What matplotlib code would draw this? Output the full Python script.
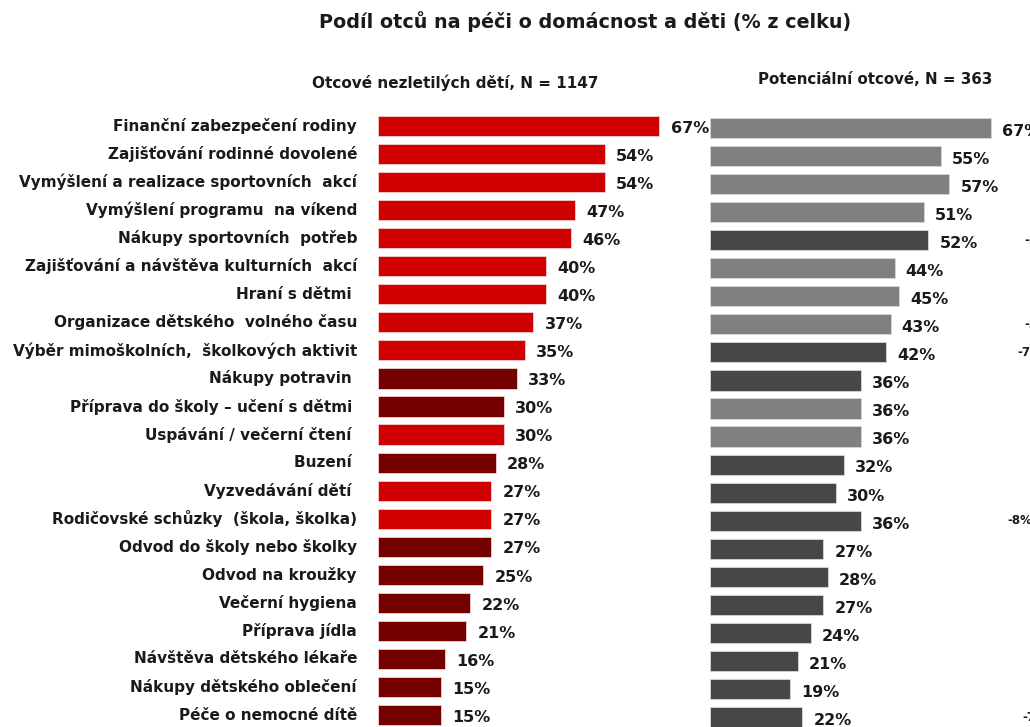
'''podil otcu na peci o domacnost a deti - two panel bar chart'''

import matplotlib
matplotlib.use('Agg')
import matplotlib.pyplot as plt

activities = ['Finanční zabezpečení rodiny', 'Zajišťování rodinné dovolené',
	'Vymýšlení a realizace sportovních  akcí', 'Vymýšlení programu  na víkend',
	'Nákupy sportovních  potřeb', 'Zajišťování a návštěva kulturních  akcí',
	'Hraní s dětmi ', 'Organizace dětského  volného času',
	'Výběr mimoškolních,  školkových aktivit', 'Nákupy potravin ',
	'Příprava do školy – učení s dětmi ', 'Uspávání / večerní čtení ',
	'Buzení ', 'Vyzvedávání dětí ', 'Rodičovské schůzky  (škola, školka)',
	'Odvod do školy nebo školky', 'Odvod na kroužky', 'Večerní hygiena',
	'Příprava jídla', 'Návštěva dětského lékaře', 'Nákupy dětského oblečení',
	'Péče o nemocné dítě']
fathers = [67, 54, 54, 47, 46, 40, 40, 37, 35, 33, 30, 30, 28, 27, 27, 27, 25, 22, 21, 16, 15, 15]
# 1 = dark bar, 0 = light bar
fathers_dark = [0, 0, 0, 0, 0, 0, 0, 0, 0, 1, 1, 0, 1, 0, 0, 1, 1, 1, 1, 1, 1, 1]
potential = [67, 55, 57, 51, 52, 44, 45, 43, 42, 36, 36, 36, 32, 30, 36, 27, 28, 27, 24, 21, 19, 22]
potential_dark = [0, 0, 0, 0, 1, 0, 0, 0, 1, 1, 0, 0, 1, 1, 1, 1, 1, 1, 1, 1, 1, 1]
# third column (differences) is cut off at the right edge of the original
diff_rows = [4, 7, 8, 14, 21]
diff_labels = ['-5%', '-3%', '-7%', '-8%', '-7%']

title = 'Podíl otců na péči o domácnost a děti (% z celku)'
left_title = 'Otcové nezletilých dětí, N = 1147'
right_title = 'Potenciální otcové, N = 363'

W, H = 1030, 727
fig = plt.figure(figsize=(W/100, H/100), dpi=100)
fig.patch.set_facecolor('white')

step = 28.05
n = len(activities)
pxu = 4.2  # pixels per percent

def make_ax(x0, width, ytop):
	top = ytop - step/2
	bottom = top + step*n
	ax = fig.add_axes([x0/W, 1 - bottom/H, width/W, (bottom - top)/H])
	ax.set_xlim(0, width/pxu)
	ax.set_ylim(n - 0.5, -0.5)
	ax.axis('off')
	return ax

axl = make_ax(378, 300, 126)
axr = make_ax(710, 320, 128)

ys = range(n)
cl = ['#740000' if d else '#d00000' for d in fathers_dark]
axl.barh(ys, fathers, height=0.72, color=cl, edgecolor='#f0d0d0', linewidth=0.6)
for y, v in zip(ys, fathers):
	axl.text(v + 2.7, y + 0.08, '%d%%' % v, va='center', ha='left', fontsize=11.5,
		fontweight='bold', color='#1a1a1a', clip_on=False)
	axl.text(-5, y, activities[y], va='center', ha='right', fontsize=11,
		fontweight='bold', color='#1a1a1a', clip_on=False)

cr = ['#474747' if d else '#808080' for d in potential_dark]
axr.barh(ys, potential, height=0.72, color=cr, edgecolor='#d8d8d8', linewidth=0.6)
for y, v in zip(ys, potential):
	axr.text(v + 2.6, y + 0.12, '%d%%' % v, va='center', ha='left', fontsize=11.5,
		fontweight='bold', color='#1a1a1a', clip_on=False)

for r, lab, x in zip(diff_rows, diff_labels, [1024, 1024, 1017, 1007, 1022]):
	axr.text((x - 710)/pxu, r, lab, va='center', ha='left', fontsize=8.5,
		fontweight='bold', color='#1a1a1a', clip_on=False)

fig.text(585/W, 1 - 22/H, title, ha='center', va='center', fontsize=13.8, fontweight='bold', color='#1a1a1a')
fig.text(455/W, 1 - 83/H, left_title, ha='center', va='center', fontsize=11, fontweight='bold', color='#1a1a1a')
fig.text(875/W, 1 - 80/H, right_title, ha='center', va='center', fontsize=10.8, fontweight='bold', color='#1a1a1a')

plt.savefig('out.png', dpi=100)
